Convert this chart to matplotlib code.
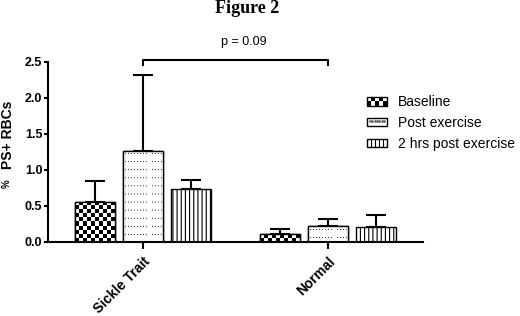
import numpy as np
import matplotlib
matplotlib.use("Agg")
import matplotlib.pyplot as plt
from matplotlib.patches import Rectangle
from matplotlib.lines import Line2D
from matplotlib.legend_handler import HandlerBase

# data
groups = ["Sickle Trait", "Normal"]
series = ["Baseline", "Post exercise", "2 hrs post exercise"]
means = [[0.56, 0.11],
         [1.27, 0.22],
         [0.74, 0.21]]
errs = [[0.29, 0.07],
        [1.05, 0.10],
        [0.12, 0.17]]
p_label = "p = 0.09"
bracket_y = 2.53

plt.rcParams['font.family'] = ['Liberation Sans', 'DejaVu Sans']
plt.rcParams['hatch.linewidth'] = 0.8

PX_PER_UNIT_Y = 72.0  # 180 px for 2.5


def checker(h_px, w_px=40, cell=4.2):
    nr = max(int(round(h_px / cell)), 1)
    nc = int(round(w_px / cell))
    return np.indices((nr, nc)).sum(axis=0) % 2


def dots(h_px, w_px=40):
    h = max(int(round(h_px)), 1)
    a = np.zeros((h, w_px))
    for r in range(3, h - 1, 8):
        for c in range(2, w_px - 1, 3):
            if c % 14 < 12:
                a[r, c] = 0.75
    return a


class PatternHandler(HandlerBase):
    def __init__(self, kind):
        super().__init__()
        self.kind = kind

    def create_artists(self, legend, orig_handle, xdescent, ydescent,
                       width, height, fontsize, trans):
        x0, y0 = -xdescent, -ydescent
        arts = []
        if self.kind == 'checker':
            nx, ny = 5, 2
            cw, ch = width / nx, height / ny
            for i in range(nx):
                for j in range(ny):
                    if (i + j) % 2 == 0:
                        arts.append(Rectangle((x0 + i * cw, y0 + j * ch), cw, ch,
                                              facecolor='black', edgecolor='none',
                                              transform=trans))
        elif self.kind == 'dots':
            xs = x0 + width * np.linspace(0.15, 0.85, 7)
            arts.append(Line2D(xs, [y0 + height * 0.6] * len(xs), linestyle='none',
                               marker='s', markersize=0.8, color='0.35', transform=trans))
        else:
            for xx in np.linspace(x0, x0 + width, 6)[1:-1]:
                arts.append(Line2D([xx, xx], [y0, y0 + height], color='black',
                                   linewidth=0.8, transform=trans))
        arts.append(Rectangle((x0, y0), width, height, fill=False, edgecolor='black',
                              linewidth=1.0, transform=trans))
        return arts


fig = plt.figure(figsize=(5.2, 3.16), dpi=100)
ax = fig.add_axes([48 / 520, 1 - 242 / 316, 375 / 520, 180 / 316])

x = np.arange(len(groups))
width = 0.216
offsets = [-0.26, 0.0, 0.26]
kinds = ['checker', 'dots', 'lines']

handles = []
for i, name in enumerate(series):
    bars = ax.bar(x + offsets[i], means[i], width, color='white',
                  edgecolor='black', linewidth=1.0,
                  hatch='||||' if kinds[i] == 'lines' else None,
                  label=name, zorder=2)
    handles.append(bars)
    ax.errorbar(x + offsets[i], means[i], yerr=[np.zeros(len(groups)), errs[i]],
                fmt='none', ecolor='black', elinewidth=1.5, capsize=7.5,
                capthick=1.5, zorder=1)
    if kinds[i] in ('checker', 'dots'):
        for b in bars:
            h_px = b.get_height() * PX_PER_UNIT_Y
            if kinds[i] == 'checker':
                img, interp = checker(h_px), 'nearest'
            else:
                img, interp = dots(h_px), 'antialiased'
            im = ax.imshow(img, cmap='gray_r', vmin=0, vmax=1,
                           extent=[b.get_x(), b.get_x() + b.get_width(), 0, b.get_height()],
                           aspect='auto', interpolation=interp, zorder=2.5)
            im.set_clip_path(b)
            ax.add_patch(Rectangle((b.get_x(), 0), b.get_width(), b.get_height(),
                                   fill=False, edgecolor='black', linewidth=1.0, zorder=3))

ax.set_xlim(-0.514, 1.514)
ax.set_ylim(0, 2.5)
ax.set_yticks([0, 0.5, 1.0, 1.5, 2.0, 2.5])
ax.set_yticklabels(["0.0", "0.5", "1.0", "1.5", "2.0", "2.5"], fontweight='bold', fontsize=9)
ax.set_xticks(x)
ax.set_xticklabels(groups, rotation=45, ha='right', rotation_mode='anchor',
                   fontweight='bold', fontsize=10)
ax.tick_params(axis='y', length=3, width=1.5, pad=1)
ax.tick_params(axis='x', length=5, width=1.5, pad=4)
for s in ['top', 'right']:
    ax.spines[s].set_visible(False)
for s in ['left', 'bottom']:
    ax.spines[s].set_linewidth(1.5)

# y label, with the small percent sign below it
fig.text(7 / 520, 1 - 184 / 316, "%", rotation=90, ha='center', va='center',
         fontweight='bold', fontsize=7)
fig.text(8 / 520, 1 - 135 / 316, "PS+ RBCs", rotation=90, ha='center', va='center',
         fontweight='bold', fontsize=10)

# significance bracket
ax.plot([x[0], x[0], x[1], x[1]], [bracket_y - 0.07, bracket_y, bracket_y, bracket_y - 0.07],
        color='black', linewidth=1.5, clip_on=False)
fig.text(244 / 520, 1 - 42 / 316, p_label, ha='center', va='center', fontsize=9)

fig.text(247 / 520, 1 - 13 / 316, "Figure 2", ha='center', va='baseline',
         family='Liberation Serif', fontweight='bold', fontsize=13)

ax.legend(handles, series,
          handler_map={handles[0]: PatternHandler('checker'),
                       handles[1]: PatternHandler('dots'),
                       handles[2]: PatternHandler('lines')},
          loc='upper left', bbox_to_anchor=(367 / 520, 1 - 95 / 316),
          bbox_transform=fig.transFigure, frameon=False, fontsize=10,
          handlelength=1.45, handleheight=0.6, handletextpad=0.75, labelspacing=0.5,
          borderaxespad=0, borderpad=0)

fig.savefig("out.png", dpi=100)
